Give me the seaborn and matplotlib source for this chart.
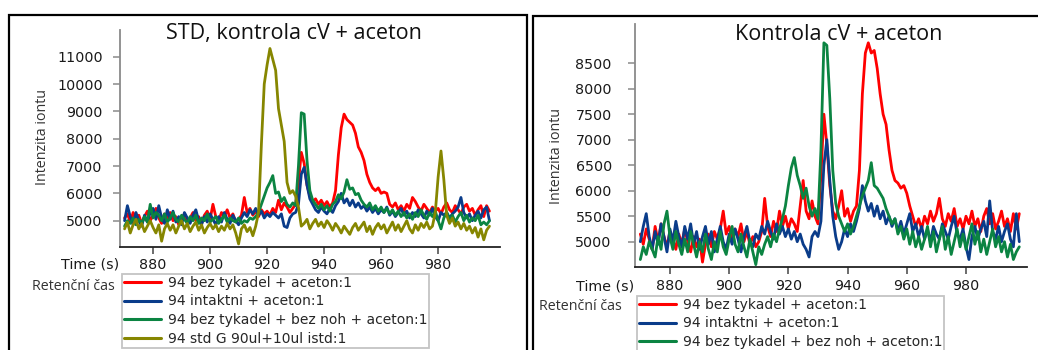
import matplotlib
matplotlib.use("Agg")
import matplotlib.pyplot as plt
from matplotlib.lines import Line2D
from matplotlib.patches import Rectangle
import pandas as pd
import seaborn as sns

# Retention time axis (s), one reading per second
time_s = list(range(870, 999))

# Panel 1: "STD, kontrola cV + aceton"
std_bez_tykadel = [
    5100, 5250, 4950, 5300, 5050, 5200, 4900, 5150, 5350, 5000,
    5200, 5450, 5100, 4900, 5250, 5050, 5300, 5000, 5150, 4850,
    5100, 5250, 4950, 5100, 5300, 5000, 5150, 4900, 5200, 5350,
    5050, 5600, 5150, 5000, 5300, 5150, 5400, 5100, 5250, 4950,
    5050, 5200, 5850, 5300, 5450, 5200, 5350, 5150, 5400, 5250,
    5350, 5200, 5450, 5300, 5750, 5400, 5650, 5500, 5300, 5450,
    5600, 6400, 7500, 7100, 6300, 5900, 5700, 5800, 5600, 5750,
    5550, 5700, 5500, 5650, 6100, 7400, 8400, 8900, 8700, 8600,
    8500, 8200, 7700, 7500, 7200, 6700, 6400, 6200, 6100, 6200,
    6000, 6050, 6000, 5600, 5500, 5650, 5400, 5550, 5350, 5600,
    5450, 5850, 5700, 5500, 5350, 5600, 5450, 5300, 5500, 5350,
    5450, 5250, 5500, 5650, 5400, 5300, 5550, 5400, 5250, 5500,
    5600, 5350, 5450, 5200, 5400, 5550, 5150, 5550, 5350,
]
std_intaktni = [
    5000, 5550, 5150, 4850, 5300, 5000, 4800, 5200, 4950, 5300,
    5450, 5050, 5550, 5100, 4900, 5400, 5050, 5350, 4950, 5150,
    4850, 5300, 5100, 4900, 5200, 5400, 5000, 4850, 5150, 4950,
    5250, 5050, 4850, 5150, 4950, 5300, 5050, 4900, 5200, 5000,
    4850, 5100, 5300, 5150, 5400, 5250, 5450, 5200, 5350, 5100,
    5250, 5150, 5300, 5200, 5100, 5250, 4800, 4750, 5100, 5250,
    5300, 5600, 6700, 6950, 6300, 5800, 5600, 5400, 5300, 5500,
    5350, 5250, 5450, 5300, 5550, 5700, 6000, 5650, 5800, 5550,
    5750, 5500, 5650, 5450, 5550, 5350, 5500, 5300, 5450, 5250,
    5400, 5300, 5500, 5200, 5350, 5150, 5300, 5450, 5200, 5350,
    5100, 5300, 5150, 5400, 5250, 5100, 5350, 5200, 5450, 5150,
    5000, 5300, 5200, 5300, 5100, 5250, 5350, 5500, 5850, 5300,
    5100, 5250, 5000, 5200, 5350, 5100, 5400, 5500, 5000,
]
std_bez_noh = [
    4800, 5000, 4900, 5100, 4850, 5050, 4900, 5150, 4950, 5600,
    5100, 5300, 5200, 5000, 5250, 4950, 5100, 5300, 5050, 4950,
    5200, 5050, 4900, 5150, 5000, 5200, 4900, 5100, 5000, 5250,
    4950, 5050, 5150, 4900, 5050, 5200, 4950, 5100, 5000, 4950,
    5100, 4900, 5000, 4950, 5100, 5050, 5150, 5300, 5600, 5900,
    6200, 6400, 6650, 6000, 6050, 5700, 5850, 5600, 5500, 5650,
    5550, 7000, 8950, 8900, 7200, 6100, 5750, 5600, 5450, 5600,
    5400, 5550, 5350, 5600, 5700, 5950, 5800, 6050, 6500, 6150,
    6200, 5950, 6000, 5750, 5600, 5500, 5650, 5400, 5550, 5350,
    5500, 5300, 5450, 5250, 5400, 5200, 5350, 5150, 5300, 5100,
    5250, 5050, 5300, 5150, 5400, 5200, 5050, 5300, 5150, 5350,
    5000, 4700, 5100, 5300, 5050, 5200, 4950, 5150, 5300, 5000,
    5200, 4950, 5100, 5000, 5200, 4850, 4950, 4850, 5000,
]
std_g = [
    4700, 4950, 4550, 4850, 5050, 4700, 4900, 4600, 4800, 5000,
    4750, 4550, 4850, 4250, 4700, 4900, 4650, 4850, 4550, 4800,
    5000, 4700, 4900, 4600, 4800, 4950, 4650, 4850, 4550, 4750,
    4900, 4700, 4850, 4600, 4800, 4650, 4900, 4700, 4850, 4550,
    4150, 4700, 4850, 4600, 4750, 4450, 4800, 5300, 7800, 10000,
    10700, 11300, 10900, 10500, 9100, 8500, 7900, 6400, 6000, 6100,
    5900, 5500, 4800, 4900, 5050, 4700, 4900, 5050, 4800, 4950,
    4750, 5000, 4850, 4650, 4900, 4750, 4550, 4800, 4650, 4500,
    4750, 4900, 4650, 4800, 4950, 4600, 4800, 4500, 4750, 4900,
    4700, 4850, 4550, 4750, 4950, 4650, 4850, 4600, 4800, 5000,
    4700, 4550, 4850, 4650, 4900, 4750, 4950, 4700, 4800, 5300,
    6600, 7550, 6500, 5200, 4900, 5100, 4800, 4950, 4700, 4900,
    4650, 4800, 4550, 4750, 4400, 4700, 4300, 4650, 4800,
]

# Panel 2: "Kontrola cV + aceton"
ctl_bez_tykadel = [
    5150, 4950, 5250, 5050, 4850, 5300, 5000, 5350, 5100, 4900,
    5200, 5050, 4850, 5150, 4950, 5250, 5000, 4800, 5100, 4900,
    5050, 4600, 4950, 5150, 4900, 5200, 5050, 5250, 5600, 5150,
    5300, 5050, 5250, 5100, 5350, 5000, 5200, 4950, 5100, 4900,
    5000, 5200, 5850, 5300, 5100, 5400, 5200, 5600, 5300, 5500,
    5250, 5450, 5350, 5200, 5700, 6200, 5600, 5450, 5800, 5500,
    5350, 6300, 7500, 6900, 6100, 5600, 5450, 5700, 6000, 5500,
    5650, 5400, 5600, 5700, 6400, 7900, 8700, 8900, 8700, 8750,
    8400, 7900, 7500, 7300, 6800, 6400, 6200, 6150, 6050, 6100,
    5950, 5700, 5500, 5300, 5450, 5250, 5500, 5350, 5600, 5400,
    5550, 5850, 5450, 5300, 5550, 5400, 5650, 5300, 5450, 5250,
    5500, 5350, 5600, 5300, 5450, 5200, 5500, 5650, 5350, 5550,
    5250, 5400, 5600, 5300, 5450, 5200, 5550, 5250, 5550,
]
ctl_intaktni = [
    5000, 5300, 5550, 5100, 4850, 5200, 4950, 5350, 5100, 4800,
    5250, 5000, 5400, 5100, 4900, 5300, 5050, 5350, 4950, 5200,
    4850, 5100, 5300, 4950, 5200, 4800, 5050, 5300, 5000, 4850,
    5150, 4950, 5250, 5050, 4800, 5100, 5300, 5000, 4900, 5150,
    5050, 5300, 5150, 5400, 5200, 5050, 5350, 5150, 5300, 5100,
    5250, 5050, 5200, 5000, 5150, 4950, 4850, 4700, 5100, 5200,
    5100, 5400, 6500, 7000, 6200, 5500, 5100, 4850, 5000, 5250,
    5100, 5350, 5200, 5400, 5650, 6100, 5800, 5600, 5750, 5500,
    5700, 5450, 5600, 5350, 5500, 5300, 5450, 5200, 5400, 5150,
    5350, 5550, 5200, 5350, 5100, 5300, 5050, 5250, 5000, 5300,
    5150, 5050, 5350, 5200, 5050, 5300, 5500, 5150, 5050, 5250,
    4900, 4650, 5100, 5300, 5050, 5250, 5400, 5100, 5800, 5200,
    5050, 5300, 5000, 5200, 5350, 5050, 4900, 5550, 5000,
]
ctl_bez_noh = [
    4650, 4900, 4750, 5000, 4850, 4700, 5100, 4850, 5350, 5600,
    5100, 4850, 5200, 4950, 4750, 5050, 4800, 5200, 4950, 4700,
    5000, 4800, 5150, 4850, 4650, 5000, 4800, 5200, 4900, 4750,
    5050, 5300, 4950, 4800, 5150, 4900, 4700, 5050, 4800, 4550,
    4900, 4750, 4950, 5100, 4900, 5150, 5000, 5250, 5450, 5700,
    6100, 6450, 6650, 6300, 6100, 5850, 6050, 5700, 5500, 5650,
    5450, 6800, 8900, 8850, 7800, 6400, 5750, 5500, 5350, 5200,
    5350, 5150, 5300, 5500, 5700, 5900, 6050, 6200, 6550, 6100,
    6050, 5950, 5850, 5650, 5500, 5350, 5450, 5150, 5300, 5050,
    5250, 4950, 5200, 4900, 5100, 4850, 5050, 5300, 4900, 5200,
    4800, 5050, 5300, 4850, 5100, 4750, 5000, 5250, 4900, 5150,
    4850, 5100, 5350, 4950, 5200, 4800, 5050, 4750, 5000, 5250,
    4900, 5100, 4800, 5000, 4700, 4950, 4650, 4800, 4900,
]

labels = [
    "94 bez tykadel + aceton:1",
    "94 intaktni + aceton:1",
    "94 bez tykadel + bez noh + aceton:1",
    "94 std G 90ul+10ul istd:1",
]
colors = ["#ff0000", "#0a3c8a", "#0b8442", "#868600"]

x_ticks = [880, 900, 920, 940, 960, 980]
y_ticks_std = [5000, 6000, 7000, 8000, 9000, 10000, 11000]
y_ticks_ctl = [5000, 5500, 6000, 6500, 7000, 7500, 8000, 8500]

sns.set_theme(style="white")
plt.rcParams["font.family"] = ["DejaVu Sans"]

W, H = 1038, 350
fig = plt.figure(figsize=(W / 100, H / 100), dpi=100)
fig.patch.set_facecolor("white")

TICK_FS = 10.3
LINE_W = 2.0


def px_axes(x0, y_top, x1, y_bottom):
    return fig.add_axes([x0 / W, 1 - y_bottom / H, (x1 - x0) / W, (y_bottom - y_top) / H])


def long_frame(series_list, names):
    rows = []
    for lab, vals in zip(names, series_list):
        rows.append(pd.DataFrame({"time": time_s, "intensity": vals, "series": lab}))
    return pd.concat(rows, ignore_index=True)


def style_axes(ax, xlim, ylim, yticks, ypad):
    ax.set_xlim(*xlim)
    ax.set_ylim(*ylim)
    ax.set_xticks(x_ticks)
    ax.set_yticks(yticks)
    ax.set_xlabel("")
    ax.set_ylabel("")
    for s in ("top", "right"):
        ax.spines[s].set_visible(False)
    ax.spines["left"].set_color("#8a8a8a")
    ax.spines["left"].set_linewidth(1.3)
    ax.spines["bottom"].set_color("#222222")
    ax.spines["bottom"].set_linewidth(1.3)
    ax.tick_params(axis="y", direction="out", length=5, width=1.1, color="#8a8a8a",
                   pad=ypad, labelsize=TICK_FS, labelcolor="#1a1a1a", left=True)
    ax.tick_params(axis="x", direction="out", length=5, width=1.1, color="#444444",
                   pad=3.5, labelsize=TICK_FS, labelcolor="#1a1a1a", bottom=True)
    ax.set_facecolor("white")
    ax.grid(False)


# Left panel
ax1 = px_axes(120, 29.5, 500, 246.5)
df1 = long_frame([std_bez_tykadel, std_intaktni, std_bez_noh, std_g], labels)
sns.lineplot(data=df1, x="time", y="intensity", hue="series", hue_order=labels,
             palette=colors, ax=ax1, legend=False, linewidth=LINE_W,
             estimator=None, sort=False)
style_axes(ax1, (868.4, 1001.7), (4056, 11995), y_ticks_std, 7.5)

# Right panel
ax2 = px_axes(634.7, 24, 1026.7, 267.3)
df2 = long_frame([ctl_bez_tykadel, ctl_intaktni, ctl_bez_noh], labels[:3])
sns.lineplot(data=df2, x="time", y="intensity", hue="series", hue_order=labels[:3],
             palette=colors[:3], ax=ax2, legend=False, linewidth=LINE_W,
             estimator=None, sort=False)
style_axes(ax2, (868.1, 1000.5), (4498, 9269), y_ticks_ctl, 11.5)

# Panel frames
fig.patches.append(Rectangle((9 / W, -0.1), (527 - 9) / W, (H - 15) / H + 0.1,
                             transform=fig.transFigure, fill=False, ec="black", lw=1.6))
fig.patches.append(Rectangle((533 / W, -0.1), (W + 20 - 533) / W, (H - 16) / H + 0.1,
                             transform=fig.transFigure, fill=False, ec="black", lw=1.6))

title_font = ["Open Sans", "DejaVu Sans"]


def ftext(x, y, s, **kw):
    fig.text(x / W, 1 - y / H, s, **kw)


ftext(294, 34, "STD, kontrola cV + aceton", ha="center", va="center",
      fontsize=15.5, family=title_font, color="#111111")
ftext(839, 34, "Kontrola cV + aceton", ha="center", va="center",
      fontsize=15.5, family=title_font, color="#111111")

ftext(43, 137, "Intenzita iontu", rotation=90, ha="center", va="center",
      fontsize=10.3, family=title_font, color="#333333")
ftext(557, 156, "Intenzita iontu", rotation=90, ha="center", va="center",
      fontsize=10.3, family=title_font, color="#333333")

ftext(119.5, 265, "Time (s)", ha="right", va="center", fontsize=TICK_FS, color="#1a1a1a")
ftext(634, 286, "Time (s)", ha="right", va="center", fontsize=TICK_FS, color="#1a1a1a")

ftext(73, 286, "Retenční čas", ha="center", va="center", fontsize=10.3,
      family=title_font, color="#333333")
ftext(580, 307, "Retenční čas", ha="center", va="center", fontsize=10.3,
      family=title_font, color="#333333")

# Legends
handles = [Line2D([], [], color=c, lw=2.2) for c in colors]


def add_legend(hs, labs, x, y):
    leg = fig.legend(hs, labs, loc="upper left", bbox_to_anchor=(x / W, 1 - y / H),
                     bbox_transform=fig.transFigure, frameon=True, fancybox=False,
                     edgecolor="#c4c4c4", framealpha=1, fontsize=10,
                     handlelength=2.7, handletextpad=0.5, labelspacing=0.34,
                     borderpad=0.12, borderaxespad=0)
    leg.get_frame().set_linewidth(1.3)
    return leg


add_legend(handles, labels, 122, 274)
add_legend(handles[:3], labels[:3], 637, 296)

fig.savefig("out.png", dpi=100)
